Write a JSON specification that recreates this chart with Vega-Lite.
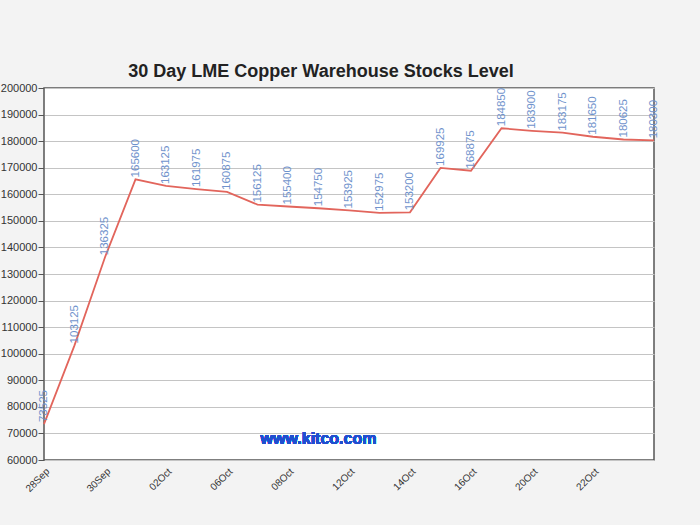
{
  "$schema": "https://vega.github.io/schema/vega-lite/v6.json",
  "autosize": "none",
  "width": 610,
  "height": 372,
  "padding": {"left": 44, "top": 88, "right": 46, "bottom": 65},
  "background": "#f3f3f3",
  "title": {
    "text": "30 Day LME Copper Warehouse Stocks Level",
    "font": "Liberation Sans",
    "fontSize": 18,
    "fontWeight": "bold",
    "color": "#222222",
    "anchor": "middle",
    "dx": -28,
    "offset": 1
  },
  "config": {
    "view": {"stroke": "#555555", "strokeWidth": 1.5, "fill": "#ffffff"},
    "axis": {
      "labelFont": "Liberation Sans",
      "labelFontSize": 11,
      "labelColor": "#333333",
      "gridColor": "#c4c4c4",
      "gridWidth": 1,
      "domain": false,
      "tickColor": "#555555",
      "title": null
    }
  },
  "data": {
    "values": [
      {"day": "28Sep", "stock": 73525},
      {"day": "29Sep", "stock": 103125},
      {"day": "30Sep", "stock": 136325},
      {"day": "01Oct", "stock": 165600},
      {"day": "02Oct", "stock": 163125},
      {"day": "05Oct", "stock": 161975},
      {"day": "06Oct", "stock": 160875},
      {"day": "07Oct", "stock": 156125},
      {"day": "08Oct", "stock": 155400},
      {"day": "09Oct", "stock": 154750},
      {"day": "12Oct", "stock": 153925},
      {"day": "13Oct", "stock": 152975},
      {"day": "14Oct", "stock": 153200},
      {"day": "15Oct", "stock": 169925},
      {"day": "16Oct", "stock": 168875},
      {"day": "19Oct", "stock": 184850},
      {"day": "20Oct", "stock": 183900},
      {"day": "21Oct", "stock": 183175},
      {"day": "22Oct", "stock": 181650},
      {"day": "23Oct", "stock": 180625},
      {"day": "26Oct", "stock": 180300}
    ]
  },
  "encoding": {
    "x": {
      "field": "day",
      "type": "ordinal",
      "sort": null,
      "scale": {"type": "point", "padding": 0},
      "axis": {
        "labelAngle": -45,
        "ticks": false,
        "labelPadding": 6,
        "labelFontSize": 10,
        "labelExpr": "indexof(['28Sep','30Sep','02Oct','06Oct','08Oct','12Oct','14Oct','16Oct','20Oct','22Oct'], datum.value) >= 0 ? datum.value : ''"
      }
    },
    "y": {
      "field": "stock",
      "type": "quantitative",
      "scale": {"domain": [60000, 200000], "nice": false},
      "axis": {"values": [60000, 70000, 80000, 90000, 100000, 110000, 120000, 130000, 140000, 150000, 160000, 170000, 180000, 190000, 200000], "format": "d", "tickSize": 6, "labelPadding": 1}
    }
  },
  "layer": [
    {
      "mark": {"type": "line", "color": "#e2655c", "strokeWidth": 1.8}
    },
    {
      "mark": {
        "type": "text",
        "angle": 270,
        "align": "left",
        "baseline": "middle",
        "dx": 2,
        "font": "Liberation Sans",
        "fontSize": 11.5,
        "color": "#6f92cc"
      },
      "encoding": {"text": {"field": "stock", "type": "quantitative", "format": "d"}}
    },
    {
      "mark": {
        "type": "text",
        "font": "Liberation Sans",
        "fontSize": 16,
        "fontWeight": "bold",
        "color": "#1f4fd0",
        "align": "center",
        "baseline": "middle"
      },
      "encoding": {
        "x": {"datum": "09Oct", "type": "ordinal"},
        "y": {"datum": 68000, "type": "quantitative"},
        "text": {"value": "www.kitco.com"}
      }
    }
  ]
}
